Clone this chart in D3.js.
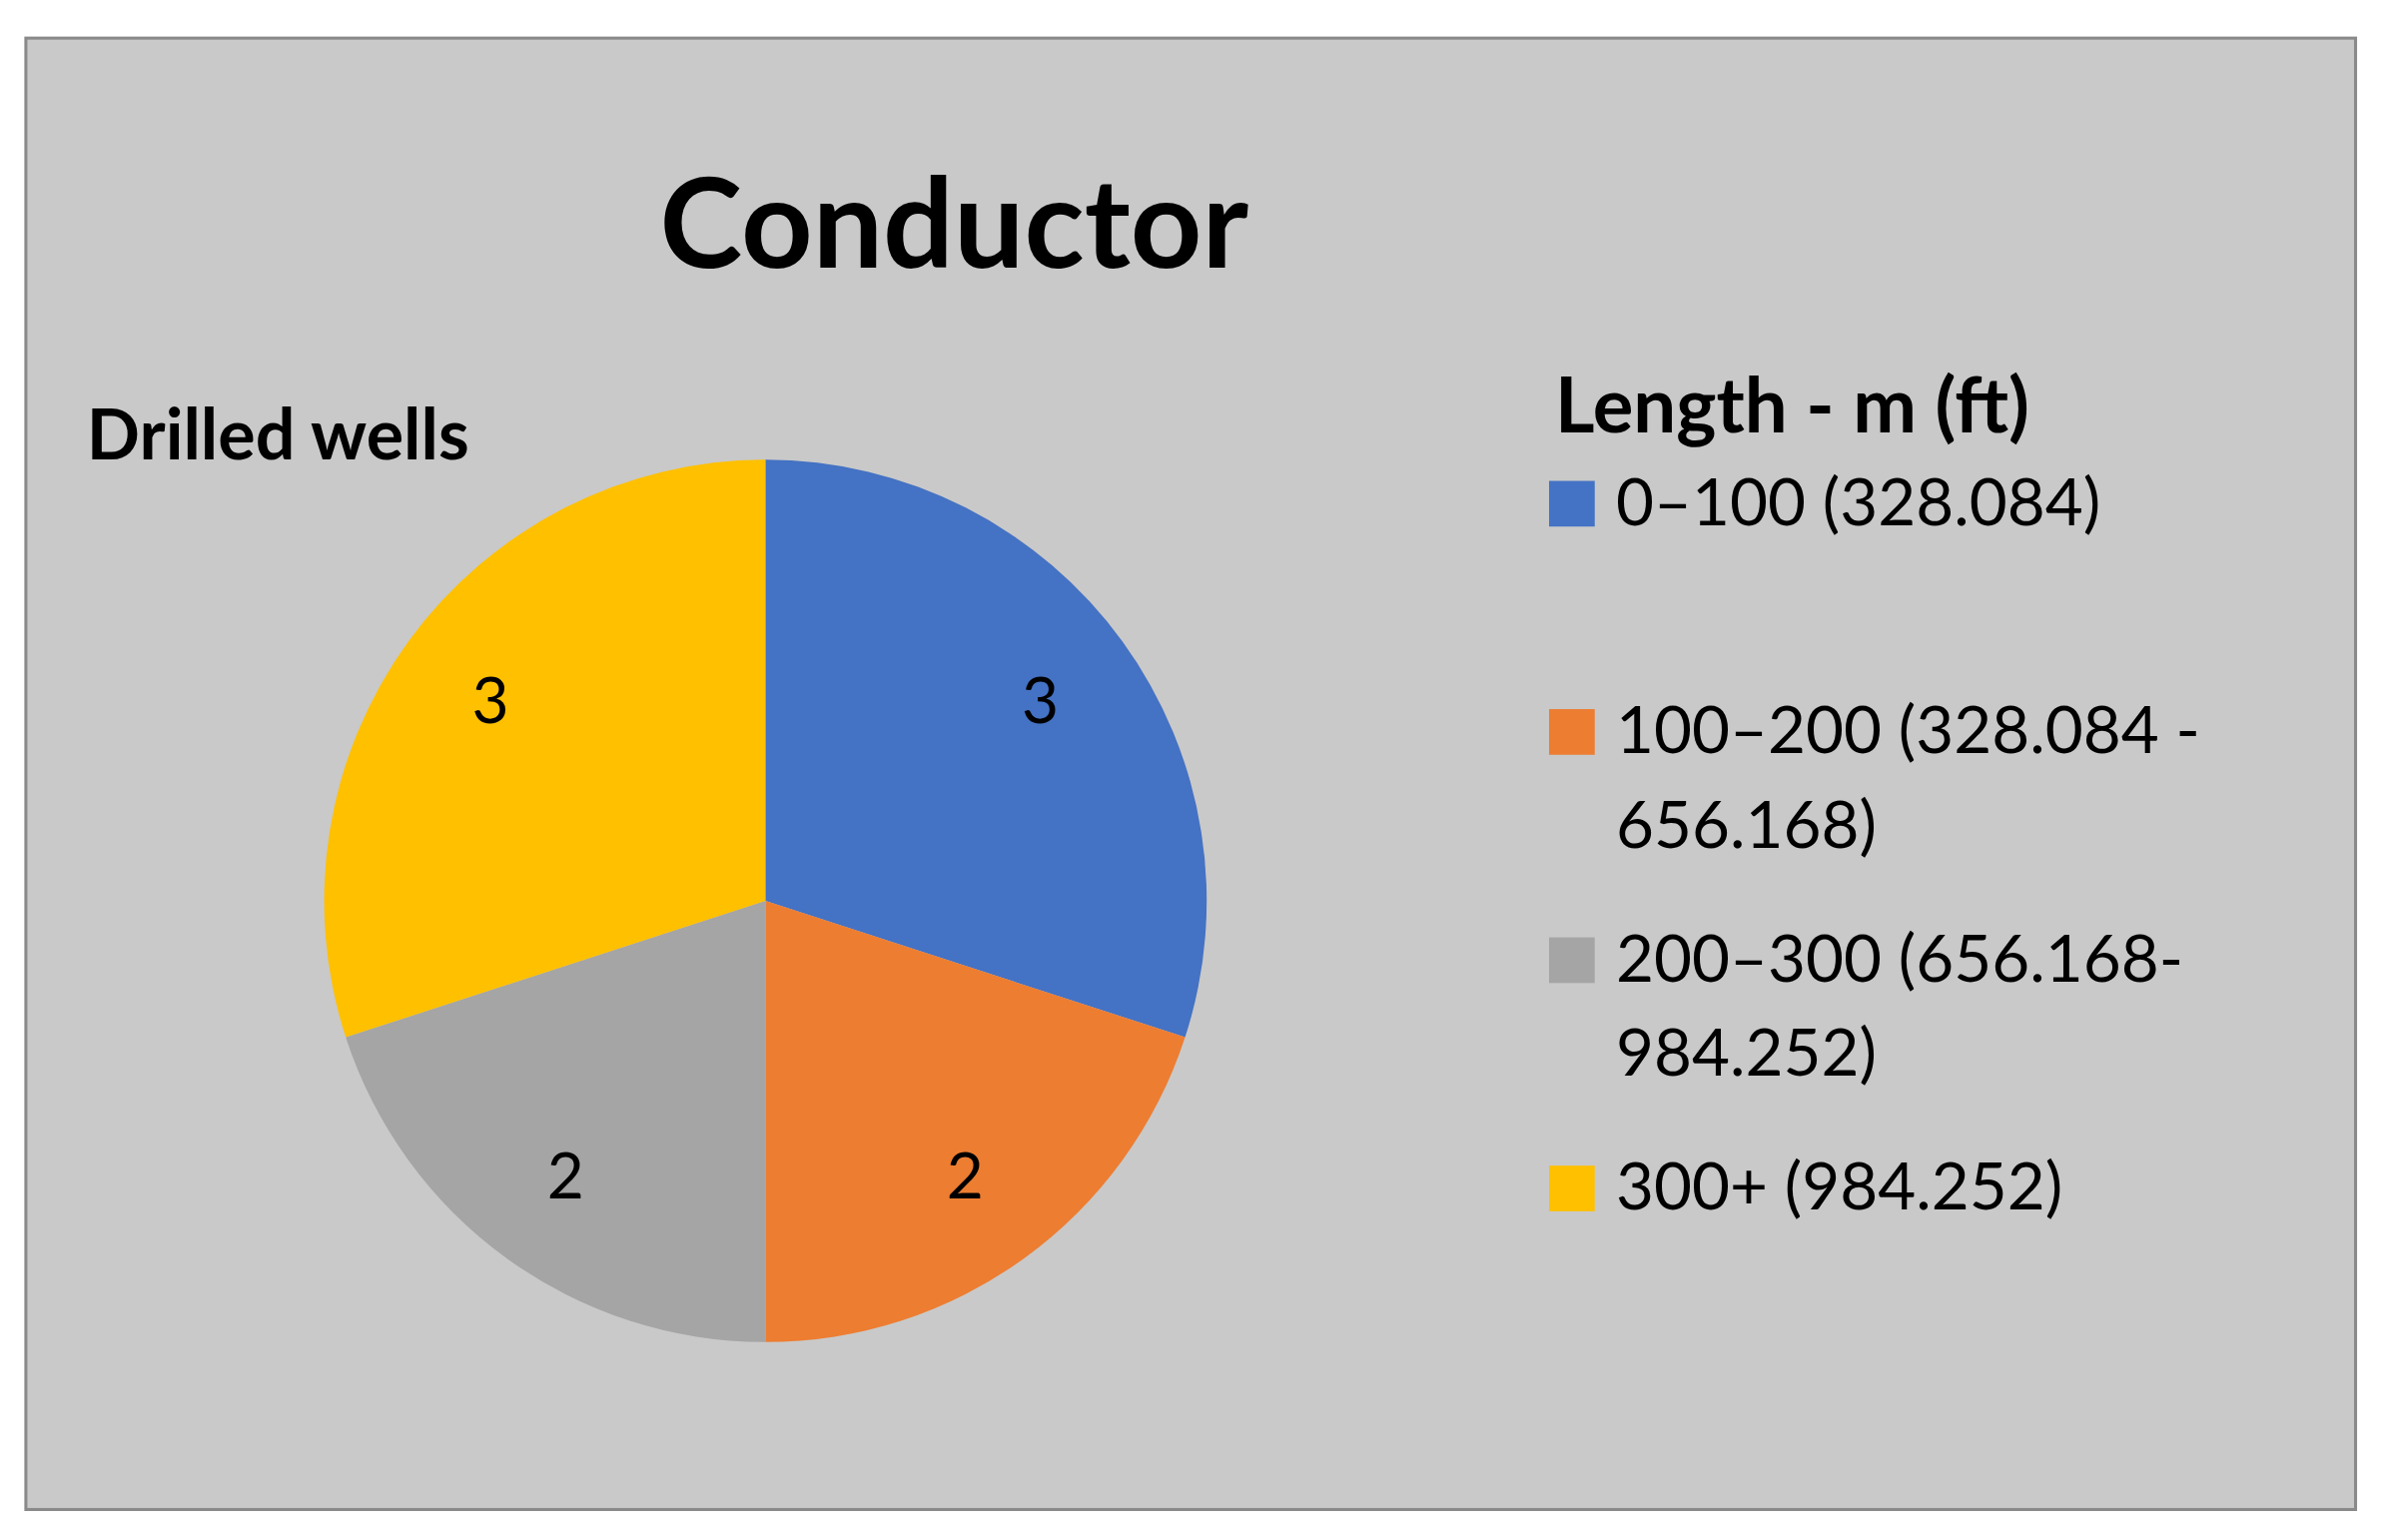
<!DOCTYPE html>
<html><head><meta charset="utf-8">
<script src="https://cdn.jsdelivr.net/npm/d3@7"></script>
<style>body{margin:0;background:#fff}svg{display:block}</style>
</head><body>
<script>
const categories = ["0–100 (328.084)", "100–200 (328.084 -|656.168)", "200–300 (656.168-|984.252)", "300+ (984.252)"];
const values = [3, 2, 2, 3];
const colors = ["#4472C4", "#ED7D31", "#A5A5A5", "#FFC000"];
const title = "Conductor";
const pieTitle = "Drilled wells";
const legendTitle = "Length - m (ft)";

const svg = d3.select("body").append("svg")
  .attr("width", 2389).attr("height", 1542)
  .attr("viewBox", "0 0 1568 1012")
  .style("font-family", "Lato, 'Open Sans', sans-serif");

svg.append("rect").attr("x", 17).attr("y", 25).attr("width", 1531).attr("height", 967)
  .attr("fill", "#C9C9C9").attr("stroke", "#8a8a8a").attr("stroke-width", 2);

svg.append("text").attr("x", 627).attr("y", 176).attr("text-anchor", "middle")
  .attr("font-size", 82).attr("font-weight", "bold").text(title);
svg.append("text").attr("x", 57).attr("y", 302)
  .attr("font-size", 46).attr("font-weight", "bold").text(pieTitle);

const R = 290;
const g = svg.append("g").attr("transform", "translate(503,592)");
const pie = d3.pie().sort(null).value(d => d)(values);
const arc = d3.arc().innerRadius(0).outerRadius(R);
const lab = d3.arc().innerRadius(R * 0.77).outerRadius(R * 0.77);
g.selectAll("path").data(pie).join("path").attr("d", arc).attr("fill", (d, i) => colors[i]);
g.selectAll("text").data(pie).join("text")
  .attr("transform", d => `translate(${lab.centroid(d)})`)
  .attr("text-anchor", "middle").attr("dy", "0.35em")
  .attr("font-size", 42).text(d => d.data);

svg.append("text").attr("x", 1022).attr("y", 284)
  .attr("font-size", 50).attr("font-weight", "bold").text(legendTitle);
const rowsY = [331, 481, 631, 781];
const lg = svg.selectAll("g.leg").data(categories).join("g").attr("class", "leg")
  .attr("transform", (d, i) => `translate(1018,${rowsY[i]})`);
lg.append("rect").attr("x", 0).attr("y", -15).attr("width", 30).attr("height", 30)
  .attr("fill", (d, i) => colors[i]);
lg.each(function(d) {
  const t = d3.select(this).append("text").attr("x", 44).attr("y", 14).attr("font-size", 43);
  d.split("|").forEach((s, j) => t.append("tspan").attr("x", 44).attr("dy", j ? 62 : 0).text(s));
});
</script>
</body></html>
